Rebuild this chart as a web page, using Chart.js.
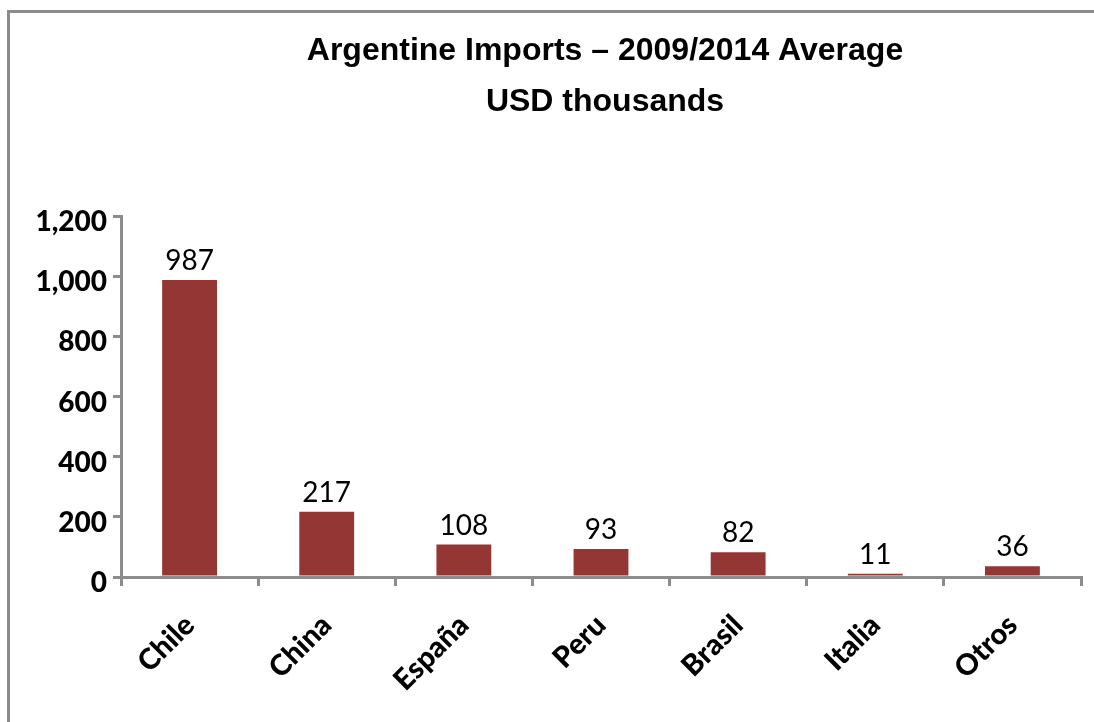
<!DOCTYPE html>
<html>
<head>
    <meta charset="UTF-8">
    <title>Argentine Imports</title>
    <style>
        html, body {
            margin: 0;
            padding: 0;
            background: #fff;
            overflow: hidden;
        }
        .frame {
            position: absolute;
            left: 7px;
            top: 10px;
            width: 2000px;
            height: 2000px;
            border-left: 3px solid #8c8c8c;
            border-top: 3px solid #8c8c8c;
        }
        #importsChart {
            position: absolute;
            left: 0;
            top: 0;
        }
    </style>
</head>
<body>
<div class="frame"></div>
<canvas id="importsChart" width="1094" height="722"></canvas>
<script src="https://cdn.jsdelivr.net/npm/chart.js"></script>
<script>
    const countries = ['Chile', 'China', 'España', 'Peru', 'Brasil', 'Italia', 'Otros'];
    const imports = [987, 217, 108, 93, 82, 11, 36];
    const titleLines = ['Argentine Imports \u2013 2009/2014 Average', 'USD thousands'];

    const axisGray = '#8c8c8c';
    const labelFont = 'Lato, "Open Sans", sans-serif';

    // values written above each bar
    const barValues = {
        id: 'barValues',
        afterDatasetsDraw(chart) {
            const ctx = chart.ctx;
            const meta = chart.getDatasetMeta(0);
            ctx.save();
            ctx.font = '28px ' + labelFont;
            ctx.fillStyle = '#000';
            ctx.textAlign = 'center';
            ctx.textBaseline = 'bottom';
            meta.data.forEach((bar, i) => {
                ctx.fillText(imports[i], bar.x, bar.y - 5);
            });
            ctx.restore();
        }
    };

    // two-line heading centred over the plot area
    const heading = {
        id: 'heading',
        afterDraw(chart) {
            const ctx = chart.ctx;
            const area = chart.chartArea;
            const cx = (area.left + area.right) / 2 + 4;
            ctx.save();
            ctx.font = 'bold 32px "Liberation Sans", Arial, sans-serif';
            ctx.fillStyle = '#000';
            ctx.textAlign = 'center';
            ctx.textBaseline = 'middle';
            ctx.fillText(titleLines[0], cx, 51);
            ctx.fillText(titleLines[1], cx, 102);
            ctx.restore();
        }
    };

    const ctx = document.getElementById('importsChart').getContext('2d');
    new Chart(ctx, {
        type: 'bar',
        data: {
            labels: countries,
            datasets: [{
                data: imports,
                backgroundColor: '#943634',
                borderWidth: 0,
                categoryPercentage: 1,
                barPercentage: 0.4
            }]
        },
        options: {
            responsive: false,
            animation: false,
            layout: {
                padding: { top: 216, right: 13, left: 0, bottom: 0 }
            },
            plugins: {
                legend: { display: false },
                title: { display: false },
                tooltip: { enabled: false }
            },
            scales: {
                x: {
                    grid: {
                        drawOnChartArea: false,
                        tickLength: 9,
                        color: axisGray,
                        lineWidth: 3
                    },
                    border: { color: axisGray, width: 3 },
                    ticks: {
                        color: '#000',
                        font: { family: labelFont, size: 29, weight: 900 },
                        minRotation: 45,
                        maxRotation: 45,
                        padding: 22
                    },
                    afterFit(scale) { scale.height = 145; }
                },
                y: {
                    min: 0,
                    max: 1200,
                    ticks: {
                        stepSize: 200,
                        color: '#000',
                        font: { family: labelFont, size: 28, weight: 900 },
                        padding: 6,
                        labelOffset: 6,
                        callback: v => v.toLocaleString('en-US')
                    },
                    grid: {
                        drawOnChartArea: false,
                        tickLength: 8,
                        color: axisGray,
                        lineWidth: 3
                    },
                    border: { color: axisGray, width: 3 },
                    afterFit(scale) { scale.width = 121; }
                }
            }
        },
        plugins: [barValues, heading]
    });
</script>
</body>
</html>
